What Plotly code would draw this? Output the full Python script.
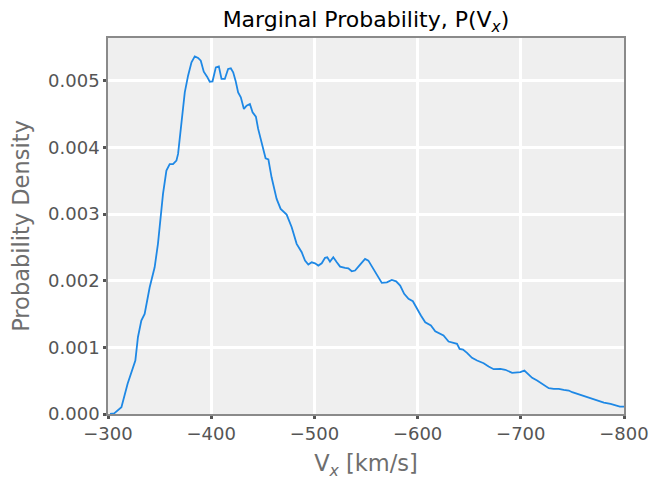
import plotly.graph_objects as go

# Marginal probability density of V_x (km/s)
vx = [
    -302, -306, -313, -319, -326.5, -329, -332.3, -335.5, -340.4, -345.2,
    -348.4, -351.1, -353.3, -356.6, -359.8, -363, -366.3, -367.9, -371.2, -374.4,
    -377.6, -380.9, -384.1, -387.3, -389.9, -392.8, -396, -398.6, -401.3, -404.5,
    -407.4, -410, -413.2, -416.4, -419, -421.3, -423.6, -426.1, -428.7, -431.7,
    -434.3, -437.5, -440.1, -443.3, -445.5, -448.8, -452.7, -455.4, -458.5, -463.4,
    -467.3, -473.1, -478, -482.8, -487.7, -490.9, -494.1, -497.4, -500.6, -503.8,
    -507.1, -510.3, -512.5, -515.1, -518.3, -521.7, -524.9, -529.7, -532.9, -536.2,
    -539.4, -544.3, -549.1, -552.3, -557.2, -562, -565.3, -570.2, -575, -579.2,
    -583.1, -587, -591.2, -595.4, -599.3, -603.2, -607.4, -612.9, -617.1, -621.9,
    -625.1, -630, -634.9, -638.2, -640.7, -644, -647.9, -652.7, -657.6, -664,
    -668.8, -673.7, -680.2, -685, -691.6, -696.4, -699.6, -703.5, -707.7, -711,
    -715.8, -720.7, -727.1, -731.9, -736.8, -741.6, -746.5, -749.8, -754.7, -759.5,
    -765.9, -770.8, -775.6, -780.5, -787, -791.8, -796, -800,
]
density = [
    0.0, 0.00001, 0.000102, 0.000453, 0.000802, 0.001152, 0.001402, 0.001502, 0.001901, 0.002201,
    0.002552, 0.002951, 0.003302, 0.003651, 0.003748, 0.003748, 0.003801, 0.003901, 0.004375, 0.004825,
    0.005075, 0.005274, 0.005365, 0.005341, 0.0053, 0.005135, 0.00506, 0.004985, 0.00499, 0.0052,
    0.005215, 0.005026, 0.005026, 0.005176, 0.005185, 0.005125, 0.005, 0.004825, 0.00475, 0.004576,
    0.004625, 0.004651, 0.004525, 0.00446, 0.004276, 0.004051, 0.003835, 0.00382, 0.00355, 0.003227,
    0.003077, 0.002991, 0.002801, 0.002552, 0.002426, 0.002301, 0.002241, 0.002276, 0.002261, 0.002226,
    0.002261, 0.002342, 0.002351, 0.002286, 0.002351, 0.002276, 0.002211, 0.002192, 0.002186, 0.002141,
    0.002152, 0.002241, 0.002327, 0.002301, 0.002177, 0.002062, 0.001967, 0.001976, 0.002012, 0.001991,
    0.001927, 0.001802, 0.001727, 0.001691, 0.001577, 0.001477, 0.001376, 0.001327, 0.001241, 0.001202,
    0.001177, 0.001087, 0.001067, 0.001052, 0.000977, 0.000967, 0.000918, 0.000843, 0.000802, 0.000762,
    0.000712, 0.000672, 0.000678, 0.000663, 0.000618, 0.000618, 0.000627, 0.000652, 0.000592, 0.000543,
    0.000502, 0.000453, 0.000387, 0.000378, 0.000378, 0.000363, 0.000352, 0.000327, 0.000303, 0.000277,
    0.000237, 0.000217, 0.000192, 0.000172, 0.000153, 0.000132, 0.000112, 0.000112,
]

x_ticks = [-300, -400, -500, -600, -700, -800]
x_tick_text = ["\u2212300", "\u2212400", "\u2212500", "\u2212600", "\u2212700", "\u2212800"]
y_ticks = [0.0, 0.001, 0.002, 0.003, 0.004, 0.005]

FONT = "DejaVu Sans"

fig = go.Figure()
fig.add_trace(go.Scatter(
    x=vx, y=density, mode="lines",
    line=dict(color="#1e88e5", width=1.8),
    showlegend=False, hoverinfo="skip",
))

axis_common = dict(
    automargin=False,
    showgrid=True, gridcolor="white", gridwidth=2.5,
    zeroline=False,
    showline=True, linecolor="#8a8a8a", linewidth=1.5, mirror=True,
    ticks="outside", ticklen=3, tickwidth=2.5, tickcolor="#555555",
    tickfont=dict(family=FONT, size=18, color="#555555"),
)

fig.update_layout(
    width=650, height=480,
    margin=dict(l=108, r=26, t=38, b=66),
    paper_bgcolor="white", plot_bgcolor="#efefef",
    font=dict(family=FONT),
    title=dict(
        text="Marginal Probability, P(V<sub><i>x</i></sub>)",
        x=0.563, xanchor="center", y=0.96, yanchor="middle",
        font=dict(family=FONT, size=22, color="black"),
    ),
    xaxis=dict(
        range=[-300, -800], tickvals=x_ticks, ticktext=x_tick_text,
        title=dict(text="V<sub><i>x</i></sub> [km/s]",
                   font=dict(family=FONT, size=22.5, color="#6e6e6e"), standoff=19),
        **axis_common,
    ),
    yaxis=dict(
        range=[0, 0.00564], tickvals=y_ticks, tickformat=".3f",
        title=dict(text="Probability Density",
                   font=dict(family=FONT, size=22.5, color="#6e6e6e"), standoff=12),
        **axis_common,
    ),
)

fig.write_html("out.html")
